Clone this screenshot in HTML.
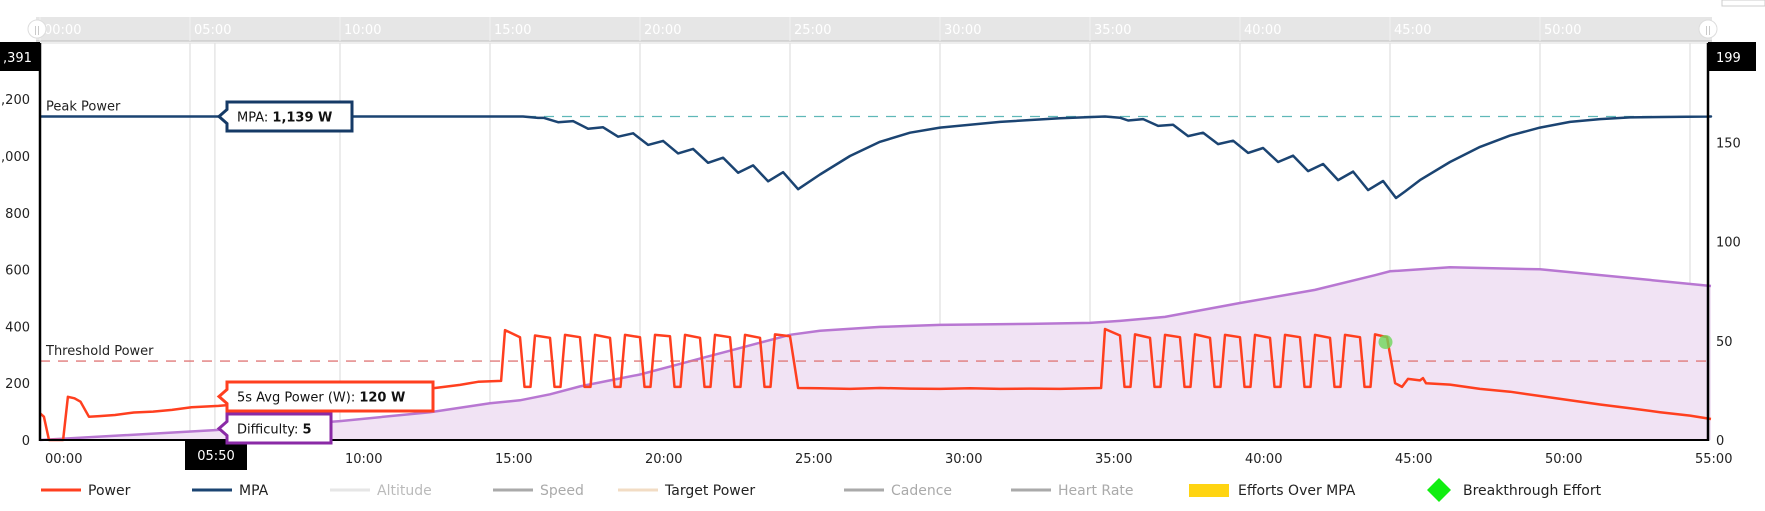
<!DOCTYPE html>
<html><head><meta charset="utf-8"><style>
html,body{margin:0;padding:0;background:#fff;}
svg{display:block;font-family:"DejaVu Sans","Liberation Sans",sans-serif;}
</style></head><body>
<svg id="chart" width="1765" height="511" viewBox="0 0 1765 511">
<g id="nav"></g>
<g id="grid"></g>
<g id="series"></g>
<g id="axes"></g>
<g id="legend"></g>
</svg>
<script>
const xTicks = [0,5,10,15,20,25,30,35,40,45,50,55];
const xTickLabels = ["00:00","05:00","10:00","15:00","20:00","25:00","30:00","35:00","40:00","45:00","50:00","55:00"];
const leftTicks = [0,200,400,600,800,1000,1200];
const leftTickLabels = ["0","200","400","600","800","1,000","1,200"];
const rightTicks = [0,50,100,150];
const powerT = [0,0.13,0.3,0.45,0.77,0.93,1.15,1.35,1.63,1.98,2.5,3.13,3.77,4.4,5.05,5.95,6.95,8.87,11.4,13.1,14.0,14.6,15.37,
 15.5,16.0,16.15,16.35,16.5,17.0,17.15,17.35,17.5,18.0,18.15,18.35,18.5,19.0,19.15,19.35,19.5,20.0,20.15,20.35,20.5,21.0,21.15,21.35,21.5,22.0,22.15,22.35,22.5,23.0,23.15,23.35,23.5,24.0,24.15,24.35,24.5,25.0,25.27,
 26,27,28,29,30,31,32,33,34,35.37,
 35.5,36.0,36.15,36.35,36.5,37.0,37.15,37.35,37.5,38.0,38.15,38.35,38.5,39.0,39.15,39.35,39.5,40.0,40.15,40.35,40.5,41.0,41.15,41.35,41.5,42.0,42.15,42.35,42.5,43.0,43.15,43.35,43.5,44.0,44.15,44.35,44.5,44.9,45.17,
 45.4,45.6,46.0,46.1,46.2,47,48,49,50,51,52,53,54,55,55.7];
const powerW = [94,82,0,0,0,152,147,135,82,84,88,97,100,106,115,120,129,152,176,182,194,205,208,
 387,362,187,187,368,360,187,187,370,362,187,187,370,360,187,187,370,362,187,187,370,365,187,187,370,360,187,187,370,362,187,187,370,360,187,187,372,365,183,
 182,180,183,181,180,182,180,181,180,183,
 391,368,187,187,372,360,187,187,370,362,187,187,372,360,187,187,370,362,187,187,370,360,187,187,370,362,187,187,370,360,187,187,370,362,187,187,372,362,200,
 187,215,210,218,200,195,180,170,155,140,125,112,98,86,74];
const mpaT = [0,16.1,16.6,16.8,17.27,17.77,18.27,18.77,19.27,19.77,20.27,20.77,21.27,21.77,22.27,22.77,23.27,23.77,24.27,24.77,25.27,
 26,27,28,29,30,32,34,35.5,36.0,36.27,36.77,37.27,37.77,38.27,38.77,39.27,39.77,40.27,40.77,41.27,41.77,42.27,42.77,43.27,43.77,44.27,44.77,45.2,
 45.5,46,47,48,49,50,51,52,53,55.7];
const mpaW = [1139,1139,1134,1134,1119,1123,1096,1101,1068,1080,1039,1053,1009,1025,976,994,941,967,911,943,883,
 935,1000,1050,1082,1100,1120,1133,1139,1135,1125,1130,1106,1110,1070,1082,1042,1054,1011,1028,979,1001,947,972,915,945,880,912,852,
 875,915,979,1032,1072,1100,1120,1130,1136,1139];
const diffT = [0,5.83,10,13,15,16,17,18,19,20,21,22,23,24,25,26,28,30,33,35,36,37.5,40,42.5,44.5,45,47,50,53,55.7];
const diffV = [0,5,9.5,14,18.5,20,23,27,30,33,37,41,45,49,53,55,57,58,58.5,59,60,62,69,75.6,83,85,87,86,81.6,77.6];
const peakPower = 1139, thresholdPower = 278;
const cursorT = 5.83;
const breakT = 44.85, breakW = 345;

const NS="http://www.w3.org/2000/svg";
const X0=40, PX_PER_MIN=30, Y0=440, LS=0.284, RS=1.985, RIGHT=1708, TOP=43;
const xS=t=>X0+t*PX_PER_MIN, yL=w=>Y0-w*LS, yR=v=>Y0-v*RS;
function el(tag,attrs,parent,text){const e=document.createElementNS(NS,tag);for(const k in attrs)e.setAttribute(k,attrs[k]);if(text!==undefined)e.textContent=text;parent.appendChild(e);return e;}
const nav=document.getElementById('nav'),grid=document.getElementById('grid'),ser=document.getElementById('series'),axes=document.getElementById('axes'),leg=document.getElementById('legend');

// navigator
let r=el('rect',{x:36,y:17,width:1676,height:24,fill:'#e6e6e6'},nav);


el('line',{x1:36,y1:41,x2:1712,y2:41,stroke:'#ccc','stroke-width':1.5},nav);
xTicks.forEach((t,i)=>{if(i===xTicks.length-1)return;
 el('line',{x1:xS(t),y1:17,x2:xS(t),y2:41,stroke:'#f2f2f2'},nav);
 const tx=el('text',{x:xS(t)+4,y:34,fill:'#fff','font-size':13},nav,xTickLabels[i]);
 
 });
[37,1708].forEach((x,i)=>{const c=el('circle',{cx:x,cy:29,r:9,fill:'#fff',stroke:'#ddd'},nav);
 
 
 el('text',{x:x,y:33,'text-anchor':'middle','font-size':9,fill:'#bbb'},nav,'||');});
el('rect',{x:1722,y:0,width:43,height:6,fill:'none',stroke:'#ccc'},nav);

// grid
el('line',{x1:X0,y1:TOP,x2:RIGHT,y2:TOP,stroke:'#ddd'},grid);
xTicks.forEach(t=>{const g=el('line',{x1:xS(t),y1:TOP,x2:xS(t),y2:Y0,stroke:'#e2e2e2','stroke-width':1.3},grid);
 
 });
el('line',{x1:xS(cursorT),y1:TOP,x2:xS(cursorT),y2:Y0,stroke:'#e2e2e2','stroke-width':1.3},grid);

// difficulty area
let d='M'+xS(diffT[0])+','+Y0;
diffT.forEach((t,i)=>{d+=' L'+xS(t).toFixed(1)+','+yR(diffV[i]).toFixed(1);});
d+=' L'+xS(diffT[diffT.length-1])+','+Y0+' Z';
let a=el('path',{d:d,fill:'#f1e3f4'},ser);


let dl='';diffT.forEach((t,i)=>{dl+=(i?' L':'M')+xS(t).toFixed(1)+','+yR(diffV[i]).toFixed(1);});
a=el('path',{d:dl,fill:'none',stroke:'#b877d2','stroke-width':2.5},ser);



// reference lines
a=el('line',{x1:X0,y1:yL(peakPower),x2:RIGHT,y2:yL(peakPower),stroke:'#5fb8b8','stroke-width':1.3,'stroke-dasharray':'10,8'},ser);


a=el('line',{x1:X0,y1:yL(thresholdPower),x2:RIGHT,y2:yL(thresholdPower),stroke:'#e07a7a','stroke-width':1.3,'stroke-dasharray':'10,8'},ser);


a=el('text',{x:46,y:yL(peakPower)-6,'font-size':13,fill:'#222'},ser,'Peak Power');


a=el('text',{x:46,y:yL(thresholdPower)-6,'font-size':13,fill:'#222'},ser,'Threshold Power');



// MPA
let mp='';mpaT.forEach((t,i)=>{mp+=(i?' L':'M')+xS(t).toFixed(1)+','+yL(mpaW[i]).toFixed(1);});
mp+=' L'+RIGHT+','+yL(mpaW[mpaW.length-1]).toFixed(1);
a=el('path',{d:mp,fill:'none',stroke:'#1b4472','stroke-width':2.5,'stroke-linejoin':'round'},ser);



// Power
let pp='';powerT.forEach((t,i)=>{pp+=(i?' L':'M')+xS(t).toFixed(1)+','+yL(powerW[i]).toFixed(1);});
a=el('path',{d:pp,fill:'none',stroke:'#ff3f1f','stroke-width':2.5,'stroke-linejoin':'round'},ser);



a=el('circle',{cx:xS(breakT),cy:yL(breakW),r:7,fill:'#6fd65a','fill-opacity':0.8},ser);



// axes
el('line',{x1:X0,y1:TOP,x2:X0,y2:Y0+1,stroke:'#000','stroke-width':2.5},axes);
el('line',{x1:RIGHT,y1:TOP,x2:RIGHT,y2:Y0+1,stroke:'#000','stroke-width':2.5},axes);
el('line',{x1:X0,y1:Y0,x2:RIGHT,y2:Y0,stroke:'#000','stroke-width':2},axes);
leftTicks.forEach((v,i)=>{const t=el('text',{x:30,y:yL(v)+5,'text-anchor':'end','font-size':13,fill:'#222'},axes,leftTickLabels[i]);
 
 });
rightTicks.forEach(v=>{const t=el('text',{x:1716,y:yR(v)+5,'font-size':13,fill:'#222'},axes,String(v));
 
 });
xTicks.forEach((v,i)=>{const t=el('text',{x:xS(v)+5,y:463,'font-size':13,fill:'#222'},axes,xTickLabels[i]);
 
 });
// max labels
el('rect',{x:0,y:42,width:40,height:29,fill:'#000'},axes);
a=el('text',{x:3,y:62,'font-size':13,fill:'#fff'},axes,',391');


el('rect',{x:1708,y:42,width:48,height:29,fill:'#000'},axes);
a=el('text',{x:1716,y:62,'font-size':13,fill:'#fff'},axes,'199');


// cursor label
el('rect',{x:185,y:440,width:62,height:30,fill:'#000'},axes);
a=el('text',{x:216,y:460,'text-anchor':'middle','font-size':13,fill:'#fff'},axes,'05:50');



// tooltips
function tip(x,y,w,h,color,label,val,name){
 const g=el('g',{},axes);
 
 
 const ax=x-8,my=y+h/2;
 el('path',{d:`M${x},${y} L${x+w},${y} L${x+w},${y+h} L${x},${y+h} L${x},${my+7} L${ax},${my} L${x},${my-7} Z`,fill:'#fff',stroke:color,'stroke-width':3},g);
 const t=el('text',{x:x+10,y:y+h/2+5,'font-size':13,fill:'#111'},g,label);
 const b=el('tspan',{'font-weight':'bold'},t,val);
}
tip(227,102,125,29,'#153a66','MPA: ','1,139 W','mpa-tooltip');
tip(227,382,206,29,'#ff3f1f','5s Avg Power (W): ','120 W','power-tooltip');
tip(227,414,104,29,'#8a2aa6','Difficulty: ','5','difficulty-tooltip');

// legend
const legItems=[
 {n:'power',x:41,t:'Power',c:'#ff3f1f',tc:'#222'},
 {n:'mpa',x:192,t:'MPA',c:'#1b4472',tc:'#222'},
 {n:'altitude',x:330,t:'Altitude',c:'#e6e6e6',tc:'#bbb'},
 {n:'speed',x:493,t:'Speed',c:'#aaa',tc:'#aaa'},
 {n:'target-power',x:618,t:'Target Power',c:'#f2dcc4',tc:'#222'},
 {n:'cadence',x:844,t:'Cadence',c:'#aaa',tc:'#aaa'},
 {n:'heart-rate',x:1011,t:'Heart Rate',c:'#aaa',tc:'#aaa'}];
legItems.forEach(it=>{const g=el('g',{},leg);
 
 
 el('line',{x1:it.x,y1:490,x2:it.x+40,y2:490,stroke:it.c,'stroke-width':3},g);
 el('text',{x:it.x+47,y:495,'font-size':14,fill:it.tc},g,it.t);});
let g=el('g',{},leg);


el('rect',{x:1189,y:484,width:40,height:13,fill:'#ffd411'},g);
el('text',{x:1238,y:495,'font-size':14,fill:'#222'},g,'Efforts Over MPA');
g=el('g',{},leg);


el('path',{d:'M1439,478 L1451,490 L1439,502 L1427,490 Z',fill:'#11ee11'},g);
el('text',{x:1463,y:495,'font-size':14,fill:'#222'},g,'Breakthrough Effort');
</script>
</body></html>
